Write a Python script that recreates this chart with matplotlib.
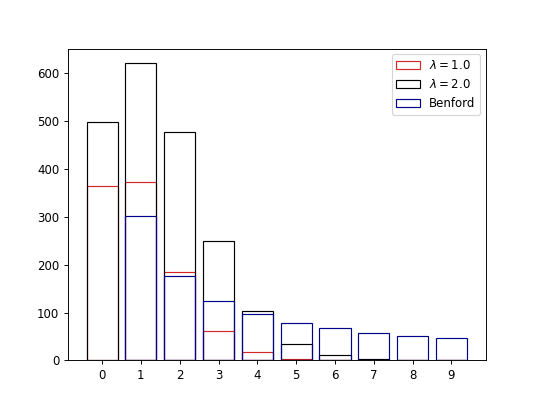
import numpy as np
import matplotlib.pyplot as plt

digits = np.arange(10)
# counts
lam1 = [364, 372, 184, 61, 17, 3, 0, 0, 0, 0]
lam2 = [497, 620, 476, 250, 103, 35, 12, 2, 0, 0]
benford = [0, 301, 176, 125, 97, 79, 67, 58, 51, 46]

fig = plt.figure(figsize=(6.4, 4.8), dpi=84.375)
plt.bar(digits, lam1, fill=False, edgecolor='tab:red', label=r'$\lambda = 1.0$')
plt.bar(digits, lam2, fill=False, edgecolor='k', label=r'$\lambda = 2.0$')
plt.bar(digits[1:], benford[1:], fill=False, edgecolor='darkblue', label='Benford')
plt.xticks(digits)
plt.legend()
plt.savefig('out.png')
